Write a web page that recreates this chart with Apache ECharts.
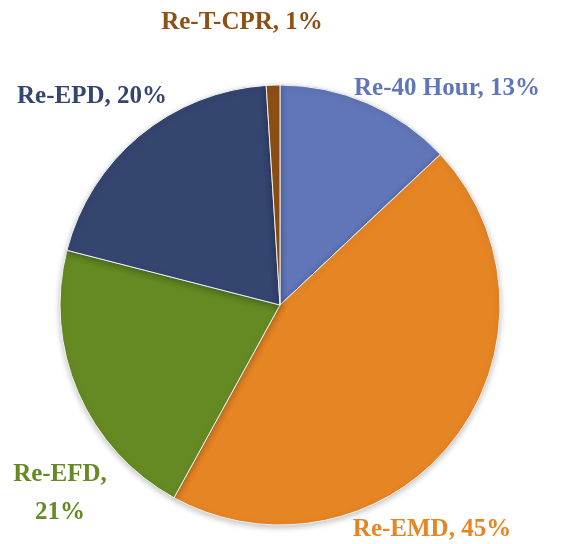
<!DOCTYPE html>
<html>
<head>
<meta charset="utf-8">
<script src="https://cdn.jsdelivr.net/npm/echarts@6/dist/echarts.min.js"></script>
<style>
  html, body { margin: 0; padding: 0; background: #fff; }
  #main { width: 563px; height: 544px; }
</style>
</head>
<body>
<div id="main"></div>
<script>
// slice names and shares (percent), clockwise from 12 o'clock
var categories = ['Re-40 Hour', 'Re-EMD', 'Re-EFD', 'Re-EPD', 'Re-T-CPR'];
var shares = [13, 45, 21, 20, 1];
var labelTexts = ['Re-40 Hour, 13%', 'Re-EMD, 45%', 'Re-EFD,\n21%', 'Re-EPD, 20%', 'Re-T-CPR, 1%'];
var colors = ['#6076b8', '#e68524', '#658a23', '#344570', '#8e4f14'];

// where each label sits (centre of text)
var labelSpots = [[447, 89], [432, 530], [60, 494], [92, 97], [242, 23]];

var myChart = echarts.init(document.getElementById('main'));

var data = categories.map(function (c, i) {
    return {
        name: c,
        value: shares[i],
        itemStyle: { color: colors[i] },
        label: { color: colors[i], formatter: labelTexts[i] }
    };
});

var option = {
    animation: false,
    series: [{
        type: 'pie',
        center: [280, 305],
        radius: 220,
        startAngle: 90,
        clockwise: true,
        data: data,
        itemStyle: {
            borderColor: '#f2f2f2',
            borderWidth: 1,
            shadowColor: 'rgba(0,0,0,0.25)',
            shadowBlur: 6,
            shadowOffsetY: 2
        },
        label: {
            show: true,
            position: 'outside',
            fontFamily: 'Liberation Serif',
            fontWeight: 'bold',
            fontSize: 25,
            lineHeight: 38,
            align: 'center',
            overflow: 'none'
        },
        labelLine: { show: false },
        labelLayout: function (params) {
            var p = labelSpots[params.dataIndex];
            return { x: p[0], y: p[1], align: 'center', verticalAlign: 'middle', width: 300 };
        }
    }]
};
myChart.setOption(option);
</script>
</body>
</html>
